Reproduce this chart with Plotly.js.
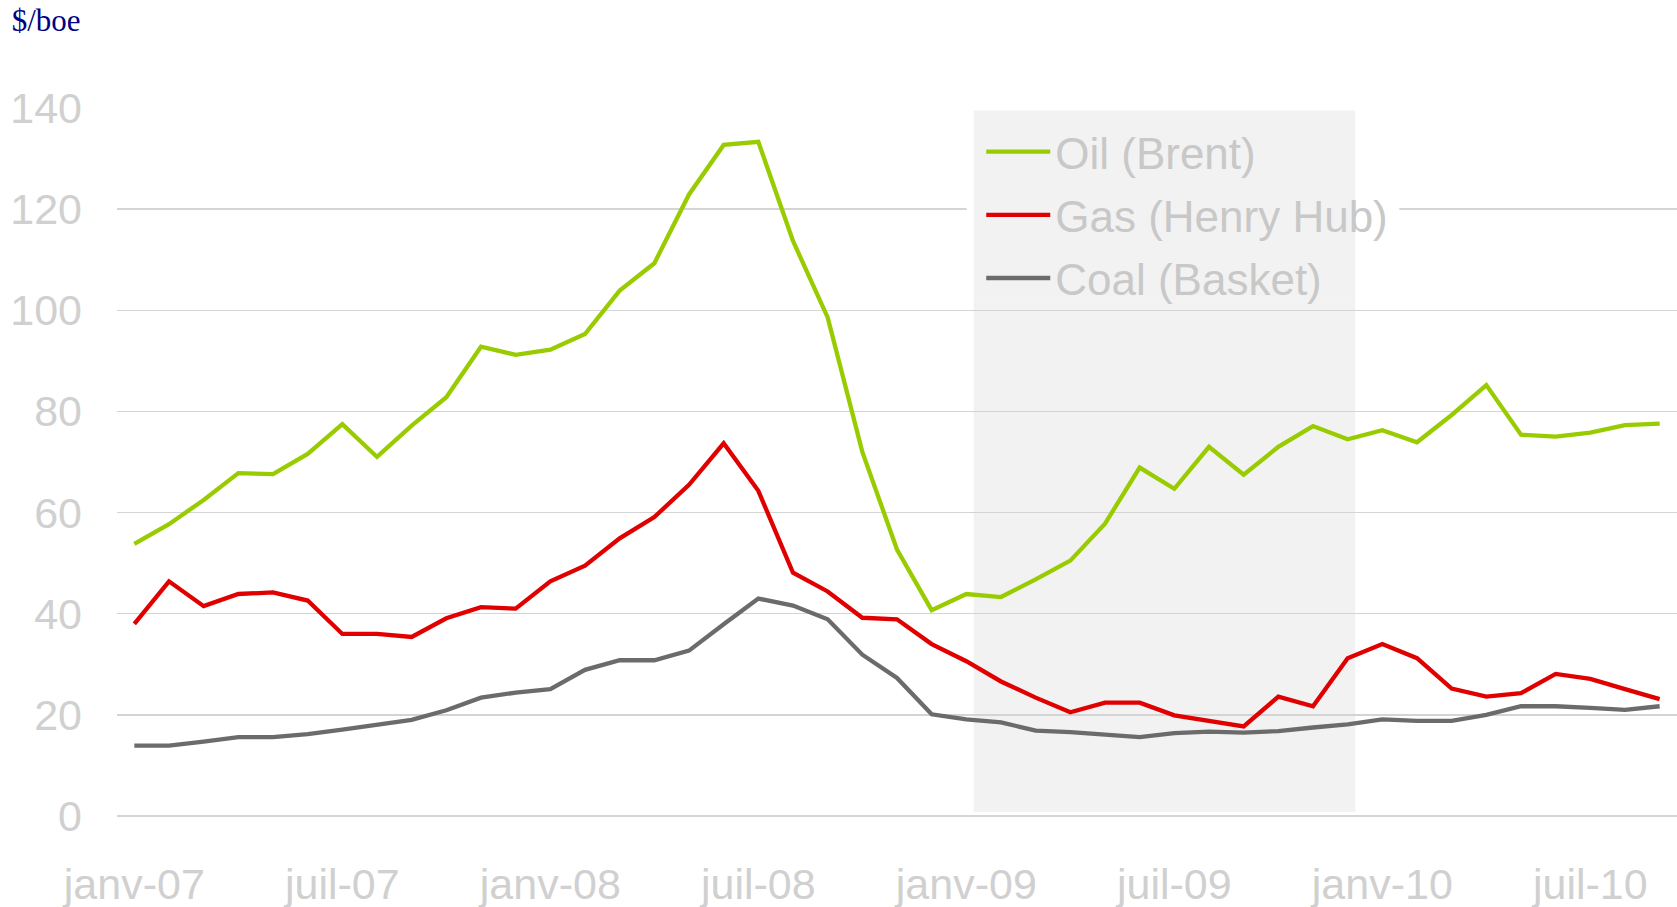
<!DOCTYPE html>
<html>
<head>
<meta charset="utf-8">
<script src="https://cdn.plot.ly/plotly-3.0.1.min.js"></script>
<style>
html,body{margin:0;padding:0;background:#fff;}
#chart{width:1677px;height:907px;}
</style>
</head>
<body>
<div id="chart"></div>
<script>
// ---- Data ----
const months = [
  "janv-07","févr-07","mars-07","avr-07","mai-07","juin-07","juil-07","août-07","sept-07","oct-07","nov-07","déc-07",
  "janv-08","févr-08","mars-08","avr-08","mai-08","juin-08","juil-08","août-08","sept-08","oct-08","nov-08","déc-08",
  "janv-09","févr-09","mars-09","avr-09","mai-09","juin-09","juil-09","août-09","sept-09","oct-09","nov-09","déc-09",
  "janv-10","févr-10","mars-10","avr-10","mai-10","juin-10","juil-10","août-10","sept-10"
];
const oilBrent = [
  53.8, 57.7, 62.5, 67.8, 67.6, 71.6, 77.5, 71.0, 77.2, 82.8, 92.8, 91.2,
  92.2, 95.3, 103.9, 109.3, 122.9, 132.7, 133.3, 113.7, 98.6, 72.0, 52.7, 40.7,
  43.9, 43.3, 46.8, 50.5, 57.8, 68.9, 64.7, 73.0, 67.5, 73.0, 77.1, 74.5,
  76.3, 73.9, 79.3, 85.2, 75.4, 75.0, 75.8, 77.3, 77.6
];
const gasHenryHub = [
  38.0, 46.4, 41.5, 43.9, 44.2, 42.6, 36.0, 36.0, 35.4, 39.1, 41.3, 41.0,
  46.4, 49.5, 54.9, 59.1, 65.5, 73.7, 64.3, 48.1, 44.4, 39.2, 38.9, 34.0,
  30.6, 26.6, 23.4, 20.5, 22.4, 22.4, 19.9, 18.7, 17.7, 23.6, 21.7, 31.2,
  34.0, 31.2, 25.2, 23.6, 24.3, 28.1, 27.1, 25.1, 23.1
];
const coalBasket = [
  13.9, 13.9, 14.7, 15.6, 15.6, 16.2, 17.1, 18.1, 19.0, 20.9, 23.4, 24.4,
  25.1, 28.9, 30.8, 30.8, 32.7, 37.9, 43.0, 41.6, 38.9, 31.9, 27.3, 20.1,
  19.1, 18.5, 16.9, 16.6, 16.0, 15.6, 16.4, 16.7, 16.5, 16.8, 17.5, 18.1,
  19.1, 18.8, 18.8, 20.0, 21.7, 21.7, 21.4, 21.0, 21.7
];
const seriesNames = ["Oil (Brent)", "Gas (Henry Hub)", "Coal (Basket)"];
const tickLabels = ["janv-07","juil-07","janv-08","juil-08","janv-09","juil-09","janv-10","juil-10"];
const yTicks = [0, 20, 40, 60, 80, 100, 120, 140];
const unitLabel = "$/boe";
// highlighted period (2009), in category positions
const shadeStart = "janv-09";
const shadeEnd = "déc-09";

// ---- Styling ----
const colors = ["#99CC00", "#E00000", "#6B6B6B"];
const tickColor = "#D0D0D0";
const gridColor = "#D4D4D4";
const fontFam = "Liberation Sans, Arial, sans-serif";

const iS = months.indexOf(shadeStart), iE = months.indexOf(shadeEnd);

const traces = [oilBrent, gasHenryHub, coalBasket].map((v, k) => ({
  type: "scatter", mode: "lines", x: months, y: v, name: seriesNames[k],
  legendgroup: "g" + k,
  line: {color: colors[k], width: 4.3},
  hoverinfo: "x+y+name"
}));

const layout = {
  width: 1677, height: 907,
  margin: {l: 117, r: 0, t: 108, b: 91, pad: 0},
  paper_bgcolor: "#ffffff", plot_bgcolor: "rgba(0,0,0,0)",
  showlegend: true,
  legend: {
    x: 0.554, y: 0.988, xanchor: "left", yanchor: "top",
    bgcolor: "rgba(0,0,0,0)", borderwidth: 0,
    font: {family: fontFam, size: 44, color: "#C8C8C8"},
    itemwidth: 64, tracegroupgap: 3
  },
  title: {
    text: unitLabel, x: 0.007, xanchor: "left", xref: "container",
    y: 0.978, yanchor: "middle", yref: "container",
    font: {family: "Liberation Serif, DejaVu Serif, serif", size: 31, color: "#000080"}
  },
  xaxis: {
    type: "category", range: [-0.5, months.length - 0.5],
    tickmode: "array", tickvals: tickLabels, ticktext: tickLabels,
    showgrid: false, zeroline: false, showline: false, ticks: "",
    tickfont: {family: fontFam, size: 43, color: tickColor},
    ticklabelstandoff: 39, fixedrange: true
  },
  yaxis: {
    range: [0, 140], tickmode: "array", tickvals: yTicks,
    showgrid: true, gridcolor: gridColor, gridwidth: 1.5,
    zeroline: true, zerolinecolor: gridColor, zerolinewidth: 1.5,
    showline: false, ticks: "",
    tickfont: {family: fontFam, size: 43, color: tickColor},
    ticklabelstandoff: 34, fixedrange: true
  },
  shapes: [
    {type: "rect", layer: "below", xref: "x", yref: "y",
     x0: iS + 0.21, x1: iE + 0.22, y0: 0.8, y1: 139.5,
     fillcolor: "#F2F2F2", line: {width: 0}},
    {type: "rect", layer: "between", xref: "x", yref: "y",
     x0: iS + 0.01, x1: iE + 1.49, y0: 102, y1: 138,
     fillcolor: "#FFFFFF", line: {width: 0}},
    {type: "rect", layer: "between", xref: "x", yref: "y",
     x0: iS + 0.21, x1: iE + 0.22, y0: 102, y1: 138,
     fillcolor: "#F2F2F2", line: {width: 0}}
  ]
};

Plotly.newPlot("chart", traces, layout, {displayModeBar: false, staticPlot: true});
</script>
</body>
</html>
